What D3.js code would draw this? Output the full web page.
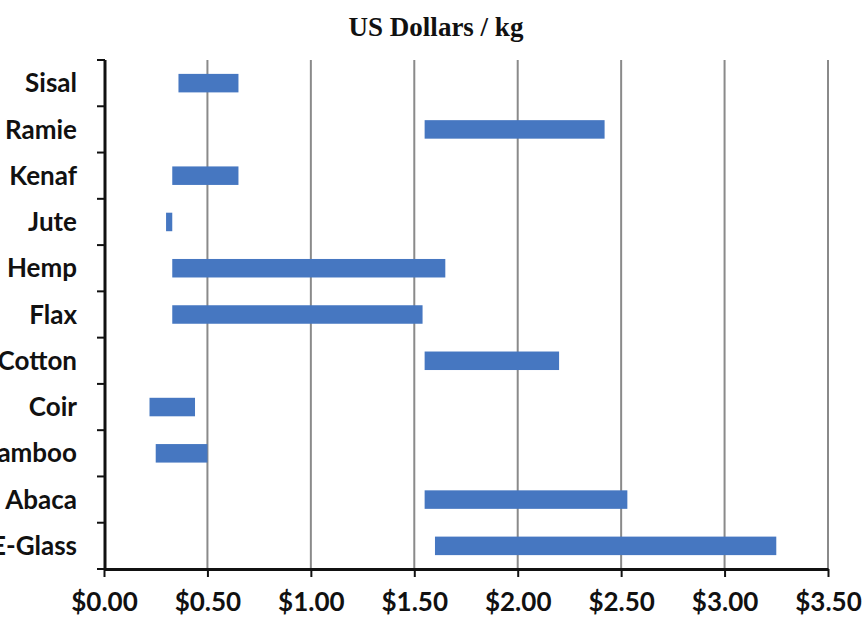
<!DOCTYPE html>
<html>
<head>
<meta charset="utf-8">
<script src="https://cdn.jsdelivr.net/npm/d3@7/dist/d3.min.js"></script>
<style>
  html, body { margin: 0; padding: 0; background: #fff; }
  svg { display: block; }
</style>
</head>
<body>
<svg id="chart" width="865" height="617"></svg>
<script>
// Price ranges of natural fibres vs. E-Glass (USD per kg)
const fibres    = ["Sisal", "Ramie", "Kenaf", "Jute", "Hemp", "Flax", "Cotton", "Coir", "Bamboo", "Abaca", "E-Glass"];
const priceLow  = [0.36, 1.55, 0.33, 0.30, 0.33, 0.33, 1.55, 0.22, 0.25, 1.55, 1.60];
const priceHigh = [0.65, 2.42, 0.65, 0.33, 1.65, 1.54, 2.20, 0.44, 0.50, 2.53, 3.25];
const priceTicks = [0, 0.5, 1, 1.5, 2, 2.5, 3, 3.5];
const titleText = "US Dollars / kg";

const svg = d3.select("#chart");
const margin = { left: 105, right: 37, top: 60, bottom: 48 };
const W = 865, H = 617;

const x = d3.scaleLinear().domain([0, 3.5]).range([margin.left - 1, W - margin.right]);
const y = d3.scaleBand().domain(fibres).range([margin.top, H - margin.bottom]).padding(0);

// vertical gridlines
svg.append("g")
  .selectAll("line")
  .data(priceTicks.filter(d => d > 0))
  .join("line")
  .attr("x1", d => x(d)).attr("x2", d => x(d))
  .attr("y1", margin.top).attr("y2", H - margin.bottom)
  .attr("stroke", "#8a8a8a").attr("stroke-width", 2);

// range bars
const bh = y.bandwidth() * 0.4;
svg.append("g")
  .selectAll("rect")
  .data(fibres)
  .join("rect")
  .attr("x", (d, i) => x(priceLow[i]))
  .attr("width", (d, i) => x(priceHigh[i]) - x(priceLow[i]))
  .attr("y", d => y(d) + (y.bandwidth() - bh) / 2)
  .attr("height", bh)
  .attr("fill", "#4677c1");

// bottom axis
const xAxis = d3.axisBottom(x)
  .tickValues(priceTicks)
  .tickFormat(d3.format("$.2f"))
  .tickSize(8)
  .tickSizeOuter(0);
const gx = svg.append("g")
  .attr("transform", `translate(0,${H - margin.bottom})`)
  .call(xAxis);
gx.select(".domain").attr("stroke", "#111").attr("stroke-width", 3);
gx.selectAll(".tick line").attr("stroke", "#111").attr("stroke-width", 2);
gx.selectAll(".tick text")
  .attr("dy", 0).attr("y", 42)
  .attr("fill", "#111")
  .style("font-family", "Lato, 'Open Sans', sans-serif")
  .style("font-weight", "bold")
  .style("font-size", "26px");

// left axis: line with ticks at category boundaries
const gy = svg.append("g");
gy.append("line")
  .attr("x1", margin.left).attr("x2", margin.left)
  .attr("y1", margin.top).attr("y2", H - margin.bottom)
  .attr("stroke", "#111").attr("stroke-width", 3);
const bounds = fibres.map(d => y(d)).concat([y.range()[1]]);
gy.selectAll("line.tk")
  .data(bounds)
  .join("line")
  .attr("class", "tk")
  .attr("x1", margin.left - 8).attr("x2", margin.left)
  .attr("y1", d => d).attr("y2", d => d)
  .attr("stroke", "#111").attr("stroke-width", 2);
gy.selectAll("text")
  .data(fibres)
  .join("text")
  .attr("x", margin.left - 28)
  .attr("y", d => y(d) + y.bandwidth() / 2)
  .attr("dy", "0.35em")
  .attr("text-anchor", "end")
  .attr("fill", "#111")
  .style("font-family", "Lato, 'Open Sans', sans-serif")
  .style("font-weight", "bold")
  .style("font-size", "26px")
  .text(d => d);

// title
svg.append("text")
  .attr("x", 436).attr("y", 36)
  .attr("text-anchor", "middle")
  .attr("fill", "#111")
  .style("font-family", "'Liberation Serif', 'DejaVu Serif', serif")
  .style("font-weight", "bold")
  .style("font-size", "27px")
  .text(titleText);
</script>
</body>
</html>
